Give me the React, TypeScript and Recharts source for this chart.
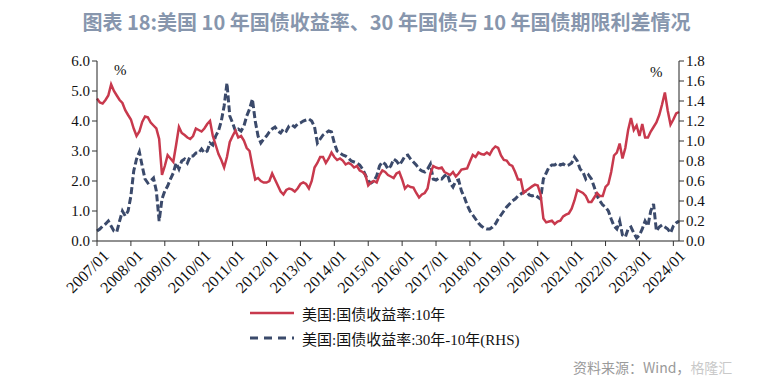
import { Line, LineChart, XAxis, YAxis } from "recharts";

// 美国 10 年国债收益率, monthly, 2007/01 - 2024/03 (%)
const yield10y: number[] = [
    // 2007
    4.75, 4.62, 4.58, 4.7, 4.85, 5.22, 5.0, 4.85, 4.7, 4.6, 4.36, 4.2,
    // 2008
    4.05, 3.75, 3.5, 3.65, 3.97, 4.15, 4.12, 3.95, 3.85, 3.75, 3.4, 2.2,
    // 2009
    2.5, 2.86, 2.75, 2.64, 3.2, 3.8, 3.6, 3.53, 3.45, 3.4, 3.5, 3.75,
    // 2010
    3.7, 3.65, 3.75, 3.9, 4.0, 3.5, 3.2, 2.9, 2.7, 2.45, 2.8, 3.3,
    // 2011
    3.5, 3.68, 3.45, 3.5, 3.35, 3.1, 3.0, 2.5, 2.05, 2.1, 2.0, 1.95,
    // 2012
    1.95, 2.0, 2.25, 2.05, 1.85, 1.65, 1.55, 1.7, 1.75, 1.72, 1.65, 1.75,
    // 2013
    1.9, 1.95, 1.9, 1.75, 2.0, 2.45, 2.6, 2.8, 2.8, 2.6, 2.75, 2.95,
    // 2014
    2.8, 2.7, 2.75, 2.68, 2.55, 2.6, 2.55, 2.45, 2.5, 2.35, 2.3, 2.2,
    // 2015
    1.85, 1.95, 2.0, 1.95, 2.2, 2.35, 2.3, 2.2, 2.15, 2.1, 2.25, 2.3,
    // 2016
    2.05, 1.75, 1.85, 1.8, 1.78, 1.6, 1.45, 1.55, 1.6, 1.75, 2.25, 2.5,
    // 2017
    2.45, 2.42, 2.45, 2.3, 2.25, 2.2, 2.3, 2.15, 2.25, 2.38, 2.4, 2.42,
    // 2018
    2.65, 2.87, 2.8, 2.95, 2.9, 2.88, 2.95, 2.88, 3.05, 3.15, 3.1, 2.85,
    // 2019
    2.7, 2.68, 2.55, 2.5, 2.3, 2.05, 2.05, 1.6, 1.68, 1.75, 1.82, 1.88,
    // 2020
    1.85, 1.55, 0.75, 0.62, 0.65, 0.68, 0.57, 0.65, 0.68, 0.82, 0.88, 0.92,
    // 2021
    1.08, 1.35, 1.7, 1.65, 1.6, 1.5, 1.3, 1.3, 1.45, 1.6, 1.5, 1.5,
    // 2022
    1.8, 1.9, 2.3, 2.85, 2.95, 3.25, 2.75, 3.1, 3.7, 4.1, 3.7, 3.85,
    // 2023
    3.5, 3.9, 3.45, 3.45, 3.65, 3.8, 3.95, 4.2, 4.55, 4.95, 4.35, 3.88,
    // 2024
    4.05, 4.25, 4.3,
];

// 美国 30 年 - 10 年国债收益率利差 (RHS, %)
const spread30y10y: number[] = [
    // 2007
    0.1, 0.12, 0.15, 0.17, 0.2, 0.15, 0.1, 0.09, 0.2, 0.3, 0.25, 0.3,
    // 2008
    0.45, 0.7, 0.82, 0.89, 0.75, 0.62, 0.58, 0.6, 0.63, 0.5, 0.2, 0.42,
    // 2009
    0.5, 0.55, 0.62, 0.68, 0.78, 0.72, 0.8, 0.82, 0.78, 0.85, 0.85, 0.88,
    // 2010
    0.88, 0.92, 0.88, 0.9, 0.98, 0.96, 1.05, 1.1, 1.2, 1.35, 1.58, 1.25,
    // 2011
    1.18, 1.1, 1.12, 1.1, 1.15, 1.25, 1.32, 1.42, 1.2, 1.05, 0.98, 1.02,
    // 2012
    1.05, 1.09, 1.12, 1.14, 1.1, 1.08, 1.12, 1.1, 1.15, 1.16, 1.14, 1.17,
    // 2013
    1.18, 1.2, 1.21, 1.22, 1.2, 1.14, 0.98, 1.02, 1.06, 1.08, 1.1, 1.09,
    // 2014
    0.98, 0.9, 0.88, 0.86, 0.85, 0.83, 0.8, 0.79, 0.78, 0.76, 0.72, 0.66,
    // 2015
    0.6, 0.58, 0.6, 0.65, 0.75, 0.79, 0.77, 0.72, 0.75, 0.82, 0.8, 0.76,
    // 2016
    0.8, 0.85, 0.86, 0.82, 0.79, 0.76, 0.72, 0.7, 0.69, 0.72, 0.77, 0.62,
    // 2017
    0.61, 0.63, 0.62, 0.65, 0.67, 0.58, 0.54, 0.6, 0.61, 0.5, 0.44, 0.36,
    // 2018
    0.3, 0.26, 0.22, 0.18, 0.15, 0.13, 0.12, 0.12, 0.14, 0.17, 0.22, 0.26,
    // 2019
    0.3, 0.34, 0.37, 0.4, 0.42, 0.45, 0.47, 0.49, 0.5, 0.46, 0.45, 0.46,
    // 2020
    0.44, 0.42, 0.62, 0.68, 0.74, 0.76, 0.76, 0.78, 0.76, 0.77, 0.75, 0.76,
    // 2021
    0.78, 0.84, 0.8, 0.72, 0.69, 0.62, 0.66, 0.62, 0.54, 0.45, 0.4, 0.36,
    // 2022
    0.34, 0.3, 0.22, 0.15, 0.12, 0.2, 0.06, 0.04, 0.12, 0.14, 0.08, 0.03,
    // 2023
    0.06, 0.12, 0.2, 0.15, 0.3, 0.37, 0.1, 0.14, 0.16, 0.14, 0.12, 0.08,
    // 2024
    0.15, 0.18, 0.2,
];

const yearTicks = [0, 12, 24, 36, 48, 60, 72, 84, 96, 108, 120, 132, 144, 156, 168, 180, 192, 204];
const leftTicks = [0, 1, 2, 3, 4, 5, 6];
const rightTicks = [0, 0.2, 0.4, 0.6, 0.8, 1.0, 1.2, 1.4, 1.6, 1.8];

const RED = "#c8394d";
const NAVY = "#3b4a6b";
const SERIF = "'Liberation Serif', 'Times New Roman', serif";
const CJK = "'Noto Sans CJK SC', sans-serif";

const chartData = yield10y.map((v, i) => ({ m: i, y10: v, spread: spread30y10y[i] }));

function monthLabel(m: number): string {
    const year = 2007 + Math.floor(m / 12);
    const month = (m % 12) + 1;
    return `${year}/${String(month).padStart(2, "0")}`;
}

function DateTick(props: any) {
    const { x, y, payload } = props;
    return (
        <g transform={`translate(${x + 5},${y + 1})`}>
            <text
                x={0}
                y={0}
                dy="0.7em"
                textAnchor="end"
                transform="rotate(-45)"
                fontFamily={SERIF}
                fontSize={16}
                fill="#111"
            >
                {monthLabel(payload.value)}
            </text>
        </g>
    );
}

export default function App() {
    return (
        <div
            style={{
                position: "absolute",
                left: 0,
                top: 0,
                width: 773,
                height: 390,
                background: "#fff",
                overflow: "hidden",
            }}
        >
            <div
                style={{
                    position: "absolute",
                    top: 8,
                    left: 0,
                    width: 773,
                    textAlign: "center",
                    fontFamily: CJK,
                    fontWeight: 700,
                    fontSize: 20,
                    lineHeight: "28px",
                    color: "#8796ad",
                }}
            >
                图表 18:美国 10 年国债收益率、30 年国债与 10 年国债期限利差情况
            </div>

            <LineChart
                width={773}
                height={390}
                data={chartData}
                margin={{ top: 61, right: 34, left: 37, bottom: 89 }}
                style={{ position: "absolute", left: 0, top: 0 }}
            >
                <XAxis
                    dataKey="m"
                    type="number"
                    domain={[0, 206]}
                    ticks={yearTicks}
                    interval={0}
                    tick={<DateTick />}
                    tickLine={{ stroke: "#333" }}
                    tickSize={5}
                    axisLine={{ stroke: "#222" }}
                    height={60}
                />
                <YAxis
                    yAxisId="left"
                    domain={[0, 6]}
                    ticks={leftTicks}
                    interval={0}
                    tickFormatter={(v: number) => v.toFixed(1)}
                    tick={{ fill: "#111", fontSize: 15, fontFamily: SERIF }}
                    tickLine={{ stroke: "#333" }}
                    tickSize={5}
                    axisLine={{ stroke: "#222" }}
                    width={60}
                />
                <YAxis
                    yAxisId="right"
                    orientation="right"
                    domain={[0, 1.8]}
                    ticks={rightTicks}
                    interval={0}
                    tickFormatter={(v: number) => v.toFixed(1)}
                    tick={{ fill: "#111", fontSize: 15, fontFamily: SERIF }}
                    tickLine={{ stroke: "#333" }}
                    tickSize={5}
                    axisLine={{ stroke: "#222" }}
                    width={60}
                    allowDataOverflow
                />
                <Line
                    yAxisId="right"
                    type="linear"
                    dataKey="spread"
                    stroke={NAVY}
                    strokeWidth={3}
                    strokeDasharray="7 3"
                    dot={false}
                    isAnimationActive={false}
                />
                <Line
                    yAxisId="left"
                    type="linear"
                    dataKey="y10"
                    stroke={RED}
                    strokeWidth={2.5}
                    dot={false}
                    isAnimationActive={false}
                />
            </LineChart>

            <div style={{ position: "absolute", left: 114, top: 62, fontFamily: SERIF, fontSize: 15, color: "#111" }}>%</div>
            <div style={{ position: "absolute", left: 650, top: 64, fontFamily: SERIF, fontSize: 15, color: "#111" }}>%</div>

            <div style={{ position: "absolute", left: 250, top: 302, fontFamily: `${SERIF.split(",")[0]}, ${CJK}`, fontSize: 15, color: "#111" }}>
                <div style={{ display: "flex", alignItems: "center", height: 22 }}>
                    <svg width={46} height={6} style={{ marginRight: 6 }}>
                        <line x1={0} y1={3} x2={44} y2={3} stroke={RED} strokeWidth={2.5} />
                    </svg>
                    <span>美国:国债收益率:10年</span>
                </div>
                <div style={{ display: "flex", alignItems: "center", height: 22, marginTop: 3 }}>
                    <svg width={46} height={6} style={{ marginRight: 6 }}>
                        <line x1={0} y1={3} x2={44} y2={3} stroke={NAVY} strokeWidth={3} strokeDasharray="8 6" />
                    </svg>
                    <span>美国:国债收益率:30年-10年(RHS)</span>
                </div>
            </div>

            <div style={{ position: "absolute", left: 573, top: 357, fontFamily: CJK, fontSize: 14, color: "#9a9a9a" }}>
                资料来源：Wind，<span style={{ color: "#c9c9c9" }}>格隆汇</span>
            </div>
        </div>
    );
}
